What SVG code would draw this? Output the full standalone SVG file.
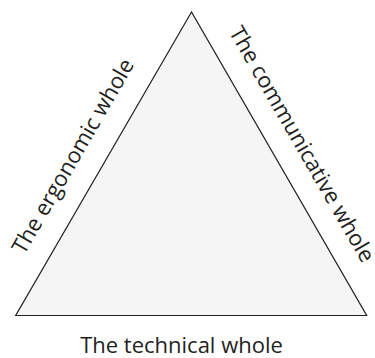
<svg xmlns="http://www.w3.org/2000/svg" width="375" height="358" viewBox="0 0 375 358">
<style>
.lbl{font-family:"Open Sans","Liberation Sans",sans-serif;font-size:22px;fill:#231f20;text-anchor:middle}
</style>
<rect width="375" height="358" fill="#fff"/>
<g id="triangle">
<polygon points="191.5,12 15.7,315.5 366.7,315.5" fill="#f5f5f5" stroke="#231f20" stroke-width="1.2"/>
</g>
<g id="label-ergonomic">
<text class="lbl" transform="translate(79.5,160) rotate(-60)">The ergonomic whole</text>
</g>
<g id="label-communicative">
<text class="lbl" transform="translate(295.5,148) rotate(60)">The communicative whole</text>
</g>
<g id="label-technical">
<text class="lbl" x="181.5" y="352.5">The technical whole</text>
</g>
</svg>
